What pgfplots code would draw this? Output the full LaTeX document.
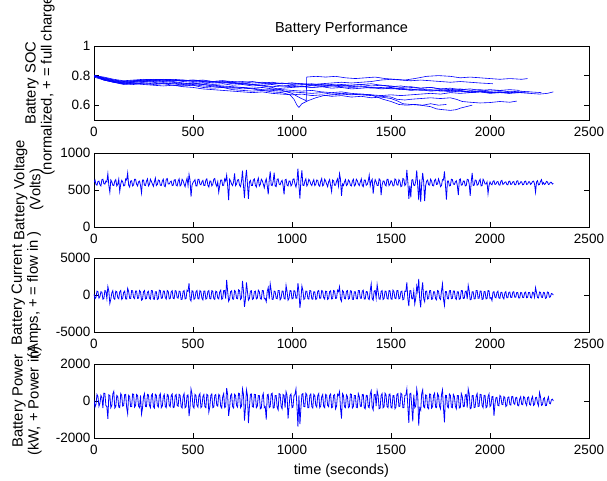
\documentclass[border=0pt]{standalone}
\usepackage{fontspec}
\setmainfont{Liberation Sans}
\usepackage{pgfplots}
\pgfplotsset{compat=1.18}
\pgfplotsset{
 mlab/.style={
  scale only axis, width=495pt, height=74pt, anchor=north west,
  xmin=0, xmax=2500, xtick={0,500,1000,1500,2000,2500},
  xticklabels={0,500,1000,1500,2000,2500},
  tick align=inside, major tick length=5pt,
  axis line style={line width=0.7pt},
  tick style={line width=0.6pt, black},
  tick label style={font=\fontsize{13.5}{15}\selectfont},
  xticklabel style={yshift=-3.5pt},
  no marks,
  every axis plot post/.append style={blue, solid, line width=0.6pt},
 },
 noisy/.style={every axis plot post/.append style={line width=0.8pt}},
 ylab/.style={every axis y label/.style={at={(axis description cs:#1,0.5)}, rotate=90, anchor=center, align=center, font=\fontsize{14.8}{16}\selectfont}},
}
\begin{document}
\begin{tikzpicture}
\useasboundingbox (0pt,0pt) rectangle (607pt,-481pt);
% ---------- SOC
\begin{axis}[mlab, ylab=-0.109, at={(94pt,-46pt)},
  ymin=0.5, ymax=1, ytick={0.6,0.8,1}, yticklabels={0.6,0.8,1},
  ylabel={Battery SOC\\(normalized, + = full charge)},
  title={Battery Performance},
  title style={at={(0.5,1)}, anchor=base, yshift=7pt, inner sep=0pt, font=\fontsize{14.5}{16}\selectfont}]
\addplot coordinates {(0,0.80)(50,0.785)(100,0.77)(150,0.76)(200,0.765)(250,0.77)(300,0.765)(350,0.775)(400,0.77)(450,0.765)(500,0.77)(550,0.76)(600,0.755)(650,0.76)(700,0.75)(750,0.745)(800,0.74)(850,0.73)(900,0.72)(950,0.70)(1000,0.68)(1040,0.65)(1072,0.63)(1074,0.79)(1120,0.795)(1170,0.79)(1220,0.795)(1270,0.785)(1320,0.78)(1370,0.785)(1420,0.79)(1470,0.78)(1520,0.775)(1570,0.77)(1620,0.78)(1680,0.795)(1740,0.80)(1800,0.795)(1850,0.785)(1900,0.79)(1950,0.785)(2000,0.78)(2050,0.775)(2100,0.78)(2160,0.775)(2190,0.78)};
\addplot coordinates {(0,0.80)(50,0.78)(100,0.765)(150,0.755)(200,0.76)(250,0.77)(300,0.775)(350,0.77)(400,0.775)(450,0.77)(500,0.765)(550,0.77)(600,0.76)(650,0.765)(700,0.755)(750,0.76)(800,0.75)(850,0.755)(900,0.745)(950,0.75)(1000,0.74)(1050,0.745)(1100,0.74)(1150,0.745)(1200,0.75)(1250,0.755)(1300,0.75)(1350,0.755)(1400,0.76)(1450,0.77)(1500,0.775)(1550,0.77)(1600,0.765)(1650,0.77)(1700,0.765)(1750,0.76)(1800,0.755)(1850,0.76)(1900,0.755)(1950,0.75)(2015,0.745)};
\addplot coordinates {(0,0.80)(50,0.775)(100,0.76)(150,0.75)(200,0.745)(250,0.755)(300,0.76)(350,0.755)(400,0.76)(450,0.75)(500,0.745)(550,0.75)(600,0.74)(650,0.745)(700,0.735)(750,0.74)(800,0.73)(850,0.735)(900,0.725)(950,0.73)(1000,0.725)(1050,0.73)(1100,0.72)(1150,0.725)(1200,0.73)(1250,0.725)(1300,0.72)(1350,0.725)(1400,0.715)(1450,0.72)(1500,0.71)(1550,0.715)(1600,0.705)(1650,0.71)(1700,0.70)(1750,0.705)(1800,0.695)(1850,0.70)(1900,0.69)(1950,0.695)(2000,0.685)(2050,0.69)(2100,0.68)(2150,0.685)(2200,0.68)(2250,0.675)(2290,0.68)(2320,0.69)};
\addplot coordinates {(0,0.79)(50,0.77)(100,0.755)(150,0.745)(200,0.74)(250,0.75)(300,0.745)(350,0.75)(400,0.745)(450,0.735)(500,0.74)(550,0.73)(600,0.725)(650,0.72)(700,0.715)(750,0.72)(800,0.71)(850,0.70)(900,0.705)(950,0.715)(1000,0.72)(1050,0.725)(1100,0.735)(1150,0.73)(1200,0.735)(1250,0.74)(1300,0.735)(1350,0.74)(1400,0.73)(1450,0.735)(1500,0.725)(1550,0.73)(1600,0.72)(1650,0.715)(1700,0.72)(1750,0.71)(1800,0.705)(1850,0.71)(1900,0.70)(1950,0.705)(2000,0.695)(2050,0.70)(2100,0.69)(2150,0.695)(2200,0.69)};
\addplot coordinates {(0,0.80)(50,0.79)(100,0.775)(150,0.765)(200,0.77)(250,0.775)(300,0.77)(350,0.765)(400,0.77)(450,0.76)(500,0.755)(550,0.76)(600,0.75)(650,0.755)(700,0.745)(750,0.75)(800,0.74)(850,0.745)(900,0.75)(950,0.745)(1000,0.75)(1050,0.74)(1100,0.745)(1150,0.735)(1200,0.74)(1250,0.73)(1300,0.735)(1350,0.74)(1400,0.745)(1450,0.735)(1500,0.73)(1550,0.72)(1600,0.725)(1650,0.715)(1700,0.72)(1750,0.71)(1800,0.715)(1850,0.705)(1900,0.71)(1950,0.70)(2000,0.705)(2050,0.70)(2100,0.705)(2150,0.70)};
\addplot coordinates {(0,0.80)(50,0.77)(100,0.755)(150,0.745)(200,0.75)(250,0.745)(300,0.74)(350,0.745)(400,0.735)(450,0.73)(500,0.735)(550,0.72)(600,0.715)(650,0.72)(700,0.705)(750,0.70)(800,0.695)(850,0.70)(900,0.69)(950,0.685)(990,0.67)(1010,0.64)(1025,0.60)(1035,0.585)(1050,0.61)(1080,0.63)(1120,0.65)(1160,0.665)(1200,0.67)(1250,0.675)(1300,0.67)(1350,0.675)(1400,0.67)(1450,0.665)(1500,0.67)(1550,0.665)(1600,0.67)(1650,0.675)(1700,0.68)(1750,0.675)(1800,0.685)(1850,0.68)(1900,0.685)(1950,0.69)(2000,0.685)(2050,0.69)(2100,0.685)(2170,0.69)};
\addplot coordinates {(0,0.80)(50,0.775)(100,0.76)(150,0.75)(200,0.755)(250,0.76)(300,0.755)(350,0.745)(400,0.75)(450,0.74)(500,0.735)(550,0.74)(600,0.73)(650,0.725)(700,0.72)(750,0.71)(800,0.715)(850,0.705)(900,0.70)(950,0.695)(1000,0.69)(1050,0.685)(1100,0.68)(1150,0.685)(1200,0.675)(1250,0.68)(1300,0.675)(1350,0.67)(1400,0.665)(1450,0.66)(1500,0.655)(1530,0.64)(1570,0.635)(1600,0.64)(1650,0.645)(1700,0.65)(1750,0.645)(1800,0.65)(1830,0.64)(1860,0.625)(1900,0.62)(1950,0.615)(2000,0.618)(2050,0.625)(2100,0.62)(2136,0.628)};
\addplot coordinates {(0,0.80)(50,0.77)(100,0.755)(150,0.74)(200,0.745)(250,0.74)(300,0.735)(350,0.73)(400,0.735)(450,0.725)(500,0.72)(550,0.71)(600,0.705)(650,0.70)(700,0.695)(750,0.69)(800,0.685)(850,0.69)(900,0.68)(950,0.675)(1000,0.67)(1050,0.675)(1100,0.665)(1150,0.67)(1200,0.66)(1250,0.665)(1300,0.655)(1350,0.66)(1400,0.65)(1450,0.655)(1500,0.645)(1530,0.63)(1560,0.61)(1600,0.605)(1650,0.60)(1700,0.59)(1730,0.575)(1760,0.57)(1800,0.565)(1830,0.57)(1850,0.58)(1880,0.59)(1910,0.60)};
\addplot coordinates {(0,0.795)(50,0.775)(100,0.76)(150,0.75)(200,0.755)(250,0.76)(300,0.765)(350,0.76)(400,0.755)(450,0.745)(500,0.75)(550,0.74)(600,0.735)(650,0.73)(700,0.725)(750,0.72)(800,0.715)(850,0.72)(900,0.71)(950,0.705)(1000,0.70)(1050,0.695)(1100,0.70)(1150,0.69)(1200,0.685)(1250,0.69)(1300,0.68)(1350,0.675)(1400,0.67)(1430,0.655)(1460,0.64)(1500,0.625)(1540,0.605)(1580,0.60)(1620,0.605)(1660,0.60)(1700,0.61)(1740,0.60)(1780,0.605)};
\addplot coordinates {(0,0.80)(50,0.785)(100,0.77)(150,0.76)(200,0.765)(250,0.77)(300,0.775)(350,0.77)(400,0.765)(450,0.77)(500,0.76)(550,0.755)(600,0.76)(650,0.75)(700,0.755)(750,0.745)(800,0.74)(850,0.735)(900,0.74)(950,0.73)(1000,0.735)(1050,0.725)(1100,0.72)(1150,0.725)(1200,0.715)(1250,0.72)(1300,0.71)(1350,0.715)(1400,0.72)(1450,0.71)(1500,0.715)(1550,0.705)(1600,0.71)(1650,0.70)(1700,0.705)(1750,0.695)(1800,0.70)(1850,0.695)(1900,0.69)(1950,0.695)(2000,0.69)(2050,0.685)(2100,0.69)(2150,0.685)(2200,0.69)(2260,0.685)};
\addplot coordinates {(0,0.80)(50,0.78)(100,0.765)(150,0.755)(200,0.76)(250,0.765)(300,0.77)(350,0.775)(400,0.77)(450,0.765)(500,0.77)(550,0.765)(600,0.76)(650,0.765)(700,0.76)(750,0.755)(800,0.76)(850,0.75)(900,0.755)(950,0.745)(1000,0.75)(1050,0.745)(1100,0.735)(1150,0.74)(1200,0.73)(1250,0.735)(1300,0.725)(1350,0.73)(1400,0.72)(1450,0.715)(1500,0.72)(1550,0.71)(1600,0.70)(1650,0.705)(1700,0.695)(1750,0.70)(1800,0.69)(1850,0.695)(1900,0.685)(1950,0.69)(2000,0.68)(2050,0.685)(2100,0.68)};
\end{axis}
% ---------- Voltage
\begin{axis}[mlab, noisy, ylab=-0.132, at={(94pt,-153pt)},
  ymin=0, ymax=1000, ytick={0,500,1000}, yticklabels={0,500,1000},
  ylabel={Battery Voltage\\(Volts)}]
\addplot coordinates {
(0,600)(5,635)(10,575)(15,565)(20,615)(25,620)(30,570)(35,555)(40,640)(45,645)(50,585)(55,580)(60,620)(65,610)(70,720)(75,560)(80,470)(85,635)(90,610)(95,565)
(100,560)(105,620)(110,640)(115,555)(120,575)(125,645)(130,480)(135,580)(140,630)(145,610)(150,555)(155,560)(160,650)(165,635)(170,730)(175,565)(180,540)(185,620)(190,625)(195,555)
(200,570)(205,645)(210,645)(215,580)(220,555)(225,610)(230,620)(235,560)(240,460)(245,635)(250,635)(255,565)(260,560)(265,620)(270,650)(275,555)(280,575)(285,645)(290,615)(295,580)
(300,550)(305,610)(310,660)(315,560)(320,575)(325,635)(330,630)(335,565)(340,560)(345,620)(350,645)(355,555)(360,545)(365,645)(370,655)(375,580)(380,580)(385,610)(390,620)(395,560)
(400,565)(405,635)(410,640)(415,565)(420,555)(425,620)(430,650)(435,555)(440,570)(445,645)(450,625)(455,580)(460,545)(465,610)(470,660)(475,560)(480,710)(485,635)(490,410)(495,565)
(500,600)(505,620)(510,640)(515,555)(520,555)(525,645)(530,645)(535,580)(540,570)(545,610)(550,630)(555,560)(560,560)(565,635)(570,650)(575,565)(580,540)(585,620)(590,620)(595,555)
(600,575)(605,645)(610,655)(615,580)(620,550)(625,610)(630,470)(635,560)(640,635)(645,635)(650,560)(655,565)(660,650)(665,620)(670,700)(675,555)(680,365)(685,645)(690,620)(695,580)
(700,560)(705,610)(710,725)(715,560)(720,580)(725,635)(730,640)(735,565)(740,545)(745,620)(750,760)(755,555)(760,390)(765,645)(770,770)(775,580)(780,380)(785,610)(790,630)(795,560)
(800,560)(805,635)(810,650)(815,565)(820,540)(825,620)(830,660)(835,555)(840,575)(845,645)(850,625)(855,580)(860,530)(865,610)(870,650)(875,560)(880,440)(885,635)(890,750)(895,565)
(900,560)(905,620)(910,735)(915,555)(920,545)(925,645)(930,650)(935,580)(940,570)(945,610)(950,630)(955,560)(960,440)(965,635)(970,645)(975,565)(980,555)(985,620)(990,620)(995,555)
(1000,575)(1005,645)(1010,650)(1015,580)(1020,540)(1025,610)(1030,790)(1035,560)(1040,385)(1045,635)(1050,765)(1055,565)(1060,560)(1065,620)(1070,650)(1075,555)(1080,580)(1085,645)(1090,625)(1095,580)
(1100,560)(1105,610)(1110,640)(1115,560)(1120,575)(1125,635)(1130,630)(1135,565)(1140,550)(1145,620)(1150,655)(1155,555)(1160,570)(1165,645)(1170,620)(1175,580)(1180,545)(1185,610)(1190,640)(1195,560)
(1200,480)(1205,635)(1210,625)(1215,565)(1220,565)(1225,620)(1230,650)(1235,555)(1240,720)(1245,645)(1250,420)(1255,580)(1260,560)(1265,610)(1270,640)(1275,560)(1280,575)(1285,635)(1290,620)(1295,565)
(1300,555)(1305,620)(1310,645)(1315,555)(1320,570)(1325,645)(1330,625)(1335,580)(1340,560)(1345,610)(1350,650)(1355,560)(1360,545)(1365,635)(1370,635)(1375,565)(1380,575)(1385,620)(1390,700)(1395,555)
(1400,620)(1405,645)(1410,450)(1415,580)(1420,640)(1425,610)(1430,560)(1435,560)(1440,650)(1445,635)(1450,430)(1455,565)(1460,620)(1465,620)(1470,570)(1475,555)(1480,645)(1485,645)(1490,560)(1495,580)
(1500,625)(1505,610)(1510,555)(1515,560)(1520,650)(1525,635)(1530,570)(1535,565)(1540,640)(1545,620)(1550,545)(1555,555)(1560,655)(1565,645)(1570,560)(1575,580)(1580,770)(1585,610)(1590,380)(1595,560)
(1600,400)(1605,635)(1610,640)(1615,565)(1620,560)(1625,620)(1630,765)(1635,555)(1640,365)(1645,645)(1650,340)(1655,580)(1660,730)(1665,610)(1670,350)(1675,560)(1680,620)(1685,635)(1690,570)(1695,565)
(1700,645)(1705,620)(1710,560)(1715,555)(1720,630)(1725,645)(1730,575)(1735,580)(1740,650)(1745,610)(1750,545)(1755,560)(1760,640)(1765,635)(1770,750)(1775,565)(1780,370)(1785,620)(1790,620)(1795,555)
(1800,560)(1805,645)(1810,640)(1815,580)(1820,575)(1825,610)(1830,625)(1835,560)(1840,430)(1845,635)(1850,650)(1855,565)(1860,570)(1865,620)(1870,620)(1875,555)(1880,560)(1885,645)(1890,640)(1895,580)
(1900,420)(1905,610)(1910,730)(1915,560)(1920,565)(1925,635)(1930,630)(1935,565)(1940,575)(1945,620)(1950,645)(1955,555)(1960,560)(1965,645)(1970,620)(1975,580)(1980,580)(1985,610)(1990,450)(1995,560)
(2000,610)(2005,580)(2010,570)(2015,615)(2020,625)(2025,575)(2030,580)(2035,610)(2040,615)(2045,570)(2050,565)(2055,620)(2060,630)(2065,575)(2070,585)(2075,605)(2080,610)(2085,575)(2090,570)(2095,615)
(2100,620)(2105,575)(2110,580)(2115,610)(2120,615)(2125,570)(2130,570)(2135,620)(2140,625)(2145,575)(2150,585)(2155,610)(2160,610)(2165,570)(2170,575)(2175,615)(2180,620)(2185,575)(2190,580)(2195,610)
(2200,610)(2205,575)(2210,590)(2215,615)(2220,620)(2225,580)(2230,470)(2235,610)(2240,625)(2245,570)(2250,575)(2255,615)(2260,640)(2265,580)(2270,600)(2275,575)(2280,585)(2285,615)(2290,610)(2295,575)
(2300,580)(2305,605)(2310,605)(2315,580)(2320,590)};
\end{axis}
% ---------- Current
\begin{axis}[mlab, noisy, ylab=-0.137, at={(94pt,-258pt)},
  ymin=-5000, ymax=5000, ytick={-5000,0,5000}, yticklabels={-5000,0,5000},
  ylabel={Battery Current\\(Amps, + = flow in )}]
\addplot coordinates {
(0,150)(5,-500)(10,-300)(15,525)(20,450)(25,-425)(30,-225)(35,450)(40,375)(45,-575)(50,-450)(55,600)(60,525)(65,-475)(70,1140)(75,500)(80,-1140)(85,-550)(90,300)(95,575)
(100,-450)(105,-575)(110,525)(115,450)(120,-375)(125,-500)(130,450)(135,600)(140,-600)(145,-425)(150,375)(155,525)(160,-525)(165,-550)(170,900)(175,475)(180,-450)(185,-475)(190,600)(195,575)
(200,-375)(205,-500)(210,525)(215,525)(220,-450)(225,-425)(230,600)(235,450)(240,-700)(245,-575)(250,450)(255,600)(260,-525)(265,-475)(270,375)(275,500)(280,-450)(285,-550)(290,600)(295,575)
(300,-525)(305,-575)(310,450)(315,450)(320,-600)(325,-500)(330,650)(335,600)(340,-450)(345,-425)(350,525)(355,525)(360,-375)(365,-550)(370,600)(375,475)(380,-525)(385,-475)(390,450)(395,575)
(400,-450)(405,-500)(410,600)(415,525)(420,-375)(425,-425)(430,525)(435,450)(440,-600)(445,-575)(450,450)(455,600)(460,-525)(465,-475)(470,650)(475,500)(480,1600)(485,-550)(490,-800)(495,575)
(500,525)(505,-575)(510,-450)(515,450)(520,600)(525,-500)(530,-525)(535,600)(540,450)(545,-425)(550,-650)(555,525)(560,525)(565,-550)(570,-450)(575,475)(580,600)(585,-475)(590,-525)(595,575)
(600,525)(605,-500)(610,-600)(615,525)(620,450)(625,-425)(630,-525)(635,450)(640,650)(645,-575)(650,-450)(655,600)(660,600)(665,-475)(670,2050)(675,500)(680,-850)(685,-550)(690,450)(695,575)
(700,-525)(705,-575)(710,600)(715,450)(720,-450)(725,-500)(730,700)(735,600)(740,-600)(745,-425)(750,1900)(755,525)(760,-1600)(765,-550)(770,1700)(775,475)(780,-700)(785,-475)(790,525)(795,575)
(800,-600)(805,-500)(810,450)(815,525)(820,-525)(825,-425)(830,650)(835,450)(840,-450)(845,-575)(850,600)(855,600)(860,-525)(865,-475)(870,-900)(875,500)(880,1000)(885,-550)(890,1500)(895,575)
(900,-600)(905,-575)(910,525)(915,450)(920,-450)(925,-500)(930,600)(935,600)(940,-650)(945,-425)(950,525)(955,525)(960,-450)(965,-550)(970,1300)(975,475)(980,-700)(985,-475)(990,600)(995,575)
(1000,-525)(1005,-500)(1010,600)(1015,525)(1020,-450)(1025,-425)(1030,1600)(1035,450)(1040,-1730)(1045,-575)(1050,1200)(1055,600)(1060,-600)(1065,-475)(1070,525)(1075,500)(1080,-450)(1085,-550)(1090,600)(1095,575)
(1100,-525)(1105,-575)(1110,450)(1115,450)(1120,-600)(1125,-500)(1130,525)(1135,600)(1140,-450)(1145,-425)(1150,600)(1155,525)(1160,-375)(1165,-550)(1170,525)(1175,475)(1180,-600)(1185,-475)(1190,450)(1195,575)
(1200,-525)(1205,-500)(1210,600)(1215,525)(1220,-450)(1225,-425)(1230,650)(1235,450)(1240,1100)(1245,-575)(1250,-850)(1255,600)(1260,450)(1265,-475)(1270,-525)(1275,500)(1280,600)(1285,-550)(1290,-450)(1295,575)
(1300,525)(1305,-575)(1310,-600)(1315,450)(1320,450)(1325,-500)(1330,-525)(1335,600)(1340,600)(1345,-425)(1350,-450)(1355,525)(1360,650)(1365,-550)(1370,-525)(1375,475)(1380,450)(1385,-475)(1390,-600)(1395,575)
(1400,1500)(1405,-500)(1410,-700)(1415,525)(1420,600)(1425,-425)(1430,1400)(1435,450)(1440,-525)(1445,-575)(1450,450)(1455,600)(1460,-600)(1465,-475)(1470,525)(1475,500)(1480,-450)(1485,-550)(1490,600)(1495,575)
(1500,-525)(1505,-575)(1510,650)(1515,450)(1520,-450)(1525,-500)(1530,600)(1535,600)(1540,-525)(1545,-425)(1550,450)(1555,525)(1560,-650)(1565,-550)(1570,525)(1575,475)(1580,1700)(1585,-475)(1590,-1500)(1595,575)
(1600,600)(1605,-500)(1610,-525)(1615,525)(1620,-1200)(1625,-425)(1630,1200)(1635,450)(1640,2180)(1645,-575)(1650,-1680)(1655,600)(1660,1700)(1665,-475)(1670,-900)(1675,500)(1680,525)(1685,-550)(1690,-450)(1695,575)
(1700,600)(1705,-575)(1710,-525)(1715,450)(1720,450)(1725,-500)(1730,-650)(1735,600)(1740,525)(1745,-425)(1750,-600)(1755,525)(1760,1500)(1765,-550)(1770,-1400)(1775,475)(1780,450)(1785,-475)(1790,-525)(1795,575)
(1800,600)(1805,-500)(1810,-450)(1815,525)(1820,525)(1825,-425)(1830,-600)(1835,450)(1840,450)(1845,-575)(1850,-525)(1855,600)(1860,600)(1865,-475)(1870,-450)(1875,500)(1880,525)(1885,-550)(1890,1300)(1895,575)
(1900,-650)(1905,-575)(1910,450)(1915,450)(1920,-525)(1925,-500)(1930,600)(1935,600)(1940,-450)(1945,-425)(1950,525)(1955,525)(1960,-600)(1965,-550)(1970,450)(1975,475)(1980,-525)(1985,-475)(1990,600)(1995,575)
(2000,-450)(2005,-350)(2010,-750)(2015,375)(2020,450)(2025,-300)(2030,-375)(2035,325)(2040,525)(2045,-400)(2050,-450)(2055,350)(2060,375)(2065,-325)(2070,-525)(2075,300)(2080,450)(2085,-375)(2090,-375)(2095,350)
(2100,400)(2105,-350)(2110,-350)(2115,375)(2120,450)(2125,-300)(2130,-300)(2135,325)(2140,350)(2145,-400)(2150,-400)(2155,350)(2160,300)(2165,-325)(2170,-350)(2175,300)(2180,400)(2185,-375)(2190,-300)(2195,350)
(2200,350)(2205,-350)(2210,-400)(2215,375)(2220,300)(2225,-300)(2230,1000)(2235,325)(2240,-350)(2245,-400)(2250,400)(2255,350)(2260,-300)(2265,-325)(2270,350)(2275,300)(2280,-450)(2285,-375)(2290,400)(2295,350)
(2300,-300)(2305,-250)(2310,200)(2315,150)(2320,0)};
\end{axis}
% ---------- Power
\begin{axis}[mlab, noisy, ylab=-0.135, at={(94pt,-364pt)},
  ymin=-2000, ymax=2000, ytick={-2000,0,2000}, yticklabels={-2000,0,2000},
  ylabel={Battery Power\\(kW, + Power in)},
  xlabel={time (seconds)},
  xlabel style={at={(axis description cs:0.5,0)}, anchor=base, yshift=-36pt, inner sep=0pt, font=\fontsize{14.5}{16}\selectfont}]
\addplot coordinates {
(0,60)(5,-330)(10,-180)(15,350)(20,240)(25,-280)(30,-120)(35,300)(40,180)(45,-380)(50,425)(55,400)(60,-240)(65,-310)(70,-960)(75,330)(80,300)(85,-360)(90,-240)(95,380)
(100,520)(105,-380)(110,-300)(115,300)(120,240)(125,-330)(130,-360)(135,400)(140,300)(145,-280)(150,-240)(155,350)(160,360)(165,-360)(170,-690)(175,310)(180,240)(185,-310)(190,-300)(195,380)
(200,360)(205,-330)(210,-240)(215,350)(220,300)(225,-280)(230,-360)(235,300)(240,-700)(245,-380)(250,240)(255,400)(260,-300)(265,-310)(270,360)(275,330)(280,-240)(285,-360)(290,300)(295,380)
(300,-300)(305,-380)(310,360)(315,300)(320,-240)(325,-330)(330,300)(335,400)(340,-360)(345,-280)(350,240)(355,350)(360,-300)(365,-360)(370,360)(375,310)(380,-240)(385,-310)(390,300)(395,380)
(400,-360)(405,-330)(410,300)(415,350)(420,-240)(425,-280)(430,360)(435,300)(440,-300)(445,-380)(450,240)(455,400)(460,-360)(465,-310)(470,300)(475,330)(480,-815)(485,-360)(490,650)(495,380)
(500,-300)(505,-380)(510,360)(515,300)(520,-240)(525,-330)(530,300)(535,400)(540,-360)(545,-280)(550,240)(555,350)(560,-300)(565,-360)(570,360)(575,310)(580,-600)(585,-310)(590,300)(595,380)
(600,-360)(605,-330)(610,300)(615,350)(620,-240)(625,-280)(630,360)(635,300)(640,-300)(645,-380)(650,240)(655,400)(660,-360)(665,-310)(670,700)(675,330)(680,-800)(685,-360)(690,300)(695,380)
(700,-300)(705,-380)(710,360)(715,300)(720,-240)(725,-330)(730,420)(735,400)(740,-360)(745,-280)(750,650)(755,350)(760,-1060)(765,-360)(770,600)(775,310)(780,-1200)(785,-310)(790,360)(795,380)
(800,-300)(805,-330)(810,360)(815,350)(820,-360)(825,-280)(830,300)(835,300)(840,-420)(845,-380)(850,240)(855,400)(860,-360)(865,-310)(870,-1000)(875,330)(880,360)(885,-360)(890,-300)(895,380)
(900,420)(905,-380)(910,-360)(915,300)(920,300)(925,-330)(930,-480)(935,400)(940,360)(945,-280)(950,-420)(955,350)(960,300)(965,-360)(970,500)(975,310)(980,-950)(985,-310)(990,300)(995,380)
(1000,-360)(1005,-330)(1010,300)(1015,350)(1020,650)(1025,-280)(1030,-1390)(1035,300)(1040,-1250)(1045,-380)(1050,360)(1055,400)(1060,-300)(1065,-310)(1070,420)(1075,330)(1080,-360)(1085,-360)(1090,300)(1095,380)
(1100,-300)(1105,-380)(1110,360)(1115,300)(1120,-240)(1125,-330)(1130,300)(1135,400)(1140,-360)(1145,-280)(1150,240)(1155,350)(1160,-300)(1165,-360)(1170,360)(1175,310)(1180,-240)(1185,-310)(1190,300)(1195,380)
(1200,-360)(1205,-330)(1210,300)(1215,350)(1220,-420)(1225,-280)(1230,360)(1235,300)(1240,500)(1245,-380)(1250,-950)(1255,400)(1260,300)(1265,-310)(1270,-360)(1275,330)(1280,240)(1285,-360)(1290,-300)(1295,380)
(1300,360)(1305,-380)(1310,-300)(1315,300)(1320,300)(1325,-330)(1330,-360)(1335,400)(1340,240)(1345,-280)(1350,-300)(1355,350)(1360,360)(1365,-360)(1370,-420)(1375,310)(1380,300)(1385,-310)(1390,-360)(1395,380)
(1400,550)(1405,-330)(1410,-480)(1415,350)(1420,360)(1425,-280)(1430,550)(1435,300)(1440,-420)(1445,-380)(1450,300)(1455,400)(1460,-360)(1465,-310)(1470,420)(1475,330)(1480,-300)(1485,-360)(1490,360)(1495,380)
(1500,-360)(1505,-380)(1510,300)(1515,300)(1520,-420)(1525,-330)(1530,360)(1535,400)(1540,-300)(1545,-280)(1550,420)(1555,350)(1560,-360)(1565,-360)(1570,300)(1575,310)(1580,650)(1585,-310)(1590,-1185)(1595,380)
(1600,420)(1605,-330)(1610,-1100)(1615,350)(1620,-360)(1625,-280)(1630,650)(1635,300)(1640,-1330)(1645,-380)(1650,-500)(1655,400)(1660,600)(1665,-310)(1670,-360)(1675,330)(1680,300)(1685,-360)(1690,-420)(1695,380)
(1700,360)(1705,-380)(1710,-300)(1715,300)(1720,420)(1725,-330)(1730,-360)(1735,400)(1740,300)(1745,-280)(1750,-420)(1755,350)(1760,600)(1765,-360)(1770,-1150)(1775,310)(1780,300)(1785,-310)(1790,-360)(1795,380)
(1800,300)(1805,-330)(1810,-360)(1815,350)(1820,240)(1825,-280)(1830,-420)(1835,300)(1840,300)(1845,-380)(1850,-360)(1855,400)(1860,240)(1865,-310)(1870,-300)(1875,330)(1880,360)(1885,-360)(1890,650)(1895,380)
(1900,-420)(1905,-380)(1910,300)(1915,300)(1920,-360)(1925,-330)(1930,240)(1935,400)(1940,-300)(1945,-280)(1950,360)(1955,350)(1960,-240)(1965,-360)(1970,300)(1975,310)(1980,-360)(1985,-310)(1990,240)(1995,380)
(2000,-300)(2005,-220)(2010,240)(2015,250)(2020,-800)(2025,-180)(2030,180)(2035,200)(2040,-240)(2045,-260)(2050,300)(2055,230)(2060,-180)(2065,-200)(2070,240)(2075,180)(2080,-300)(2085,-240)(2090,180)(2095,220)
(2100,-180)(2105,-220)(2110,240)(2115,250)(2120,-120)(2125,-180)(2130,180)(2135,200)(2140,-240)(2145,-260)(2150,120)(2155,230)(2160,-180)(2165,-200)(2170,240)(2175,180)(2180,-120)(2185,-240)(2190,180)(2195,220)
(2200,-180)(2205,-220)(2210,120)(2215,250)(2220,-240)(2225,-180)(2230,180)(2235,200)(2240,-120)(2245,-260)(2250,460)(2255,230)(2260,-240)(2265,-200)(2270,120)(2275,180)(2280,-250)(2285,-240)(2290,60)(2295,220)
(2300,-120)(2305,-150)(2310,60)(2315,100)(2320,0)};
\end{axis}
\end{tikzpicture}
\end{document}
